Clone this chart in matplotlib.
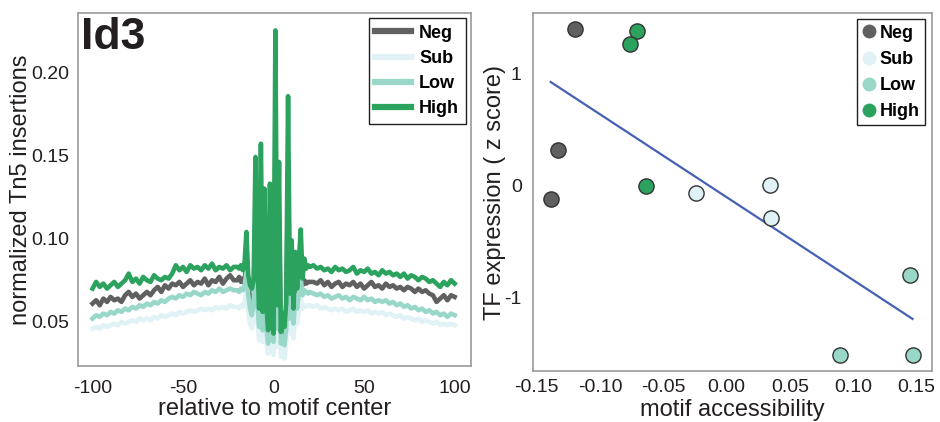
import numpy as np
import matplotlib
matplotlib.use('Agg')
import matplotlib.pyplot as plt
from matplotlib.lines import Line2D

plt.rcParams['font.family'] = ['Liberation Sans', 'DejaVu Sans']
plt.rcParams['axes.unicode_minus'] = False

groups = ['Neg', 'Sub', 'Low', 'High']
colors = ['#606060', '#e0f2f6', '#99d8c9', '#2ca25f']

# footprint positions: 2 bp steps on the flanks, 1 bp around the motif
pos = np.concatenate([np.arange(-100, -20, 2), np.arange(-20, 21), np.arange(22, 101, 2)])

neg = [0.061, 0.063, 0.060, 0.064, 0.062, 0.065, 0.063, 0.064, 0.062, 0.066,
       0.068, 0.065, 0.067, 0.064, 0.066, 0.068, 0.066, 0.069, 0.071, 0.068,
       0.072, 0.070, 0.073, 0.072, 0.074, 0.071, 0.073, 0.075, 0.072, 0.074,
       0.073, 0.076, 0.072, 0.075, 0.074, 0.077, 0.073, 0.076, 0.078, 0.075,
       # -20 .. 20
       0.075, 0.077, 0.074, 0.076, 0.073, 0.088, 0.070, 0.062, 0.058, 0.067,
       0.115, 0.072, 0.054, 0.120, 0.052, 0.100, 0.053, 0.042, 0.103, 0.046,
       0.041, 0.165, 0.052, 0.112, 0.041, 0.049, 0.043, 0.055, 0.140, 0.060,
       0.082, 0.054, 0.076, 0.064, 0.075, 0.086, 0.072, 0.075, 0.073, 0.074,
       0.074,
       0.074, 0.073, 0.075, 0.072, 0.074, 0.071, 0.073, 0.074, 0.071, 0.073,
       0.072, 0.074, 0.071, 0.073, 0.070, 0.072, 0.074, 0.071, 0.072, 0.070,
       0.073, 0.071, 0.072, 0.070, 0.071, 0.069, 0.071, 0.070, 0.068, 0.070,
       0.068, 0.069, 0.067, 0.066, 0.062, 0.064, 0.066, 0.063, 0.066, 0.065]

sub = [0.046, 0.047, 0.046, 0.048, 0.047, 0.048, 0.049, 0.048, 0.050, 0.049,
       0.050, 0.051, 0.050, 0.052, 0.051, 0.052, 0.051, 0.053, 0.052, 0.054,
       0.053, 0.054, 0.055, 0.054, 0.056, 0.055, 0.056, 0.057, 0.056, 0.057,
       0.058, 0.057, 0.058, 0.057, 0.059, 0.058, 0.059, 0.058, 0.060, 0.059,
       0.059, 0.058, 0.060, 0.059, 0.062, 0.068, 0.056, 0.049, 0.046, 0.053,
       0.075, 0.052, 0.039, 0.080, 0.038, 0.068, 0.038, 0.031, 0.070, 0.033,
       0.030, 0.100, 0.035, 0.075, 0.029, 0.033, 0.028, 0.037, 0.090, 0.043,
       0.058, 0.040, 0.055, 0.049, 0.057, 0.064, 0.058, 0.060, 0.059, 0.060,
       0.060,
       0.059, 0.060, 0.058, 0.059, 0.058, 0.057, 0.058, 0.057, 0.058, 0.056,
       0.057, 0.058, 0.056, 0.057, 0.056, 0.057, 0.055, 0.056, 0.055, 0.056,
       0.054, 0.055, 0.054, 0.053, 0.054, 0.052, 0.053, 0.052, 0.051, 0.052,
       0.050, 0.051, 0.050, 0.049, 0.050, 0.048, 0.049, 0.048, 0.049, 0.048]

low = [0.052, 0.054, 0.053, 0.055, 0.054, 0.056, 0.055, 0.057, 0.056, 0.058,
       0.057, 0.059, 0.058, 0.060, 0.059, 0.061, 0.060, 0.062, 0.061, 0.063,
       0.062, 0.064, 0.065, 0.064, 0.066, 0.065, 0.067, 0.066, 0.068, 0.067,
       0.066, 0.068, 0.067, 0.069, 0.068, 0.070, 0.068, 0.069, 0.070, 0.069,
       0.069, 0.068, 0.070, 0.069, 0.072, 0.080, 0.066, 0.058, 0.054, 0.062,
       0.090, 0.062, 0.047, 0.095, 0.045, 0.080, 0.046, 0.037, 0.082, 0.040,
       0.038, 0.120, 0.046, 0.088, 0.037, 0.041, 0.036, 0.046, 0.105, 0.052,
       0.070, 0.049, 0.066, 0.058, 0.068, 0.076, 0.066, 0.069, 0.068, 0.067,
       0.068,
       0.067, 0.066, 0.067, 0.065, 0.066, 0.064, 0.065, 0.066, 0.064, 0.065,
       0.063, 0.065, 0.064, 0.063, 0.065, 0.063, 0.064, 0.062, 0.063, 0.062,
       0.063, 0.061, 0.062, 0.060, 0.061, 0.059, 0.060, 0.058, 0.059, 0.057,
       0.058, 0.056, 0.057, 0.055, 0.056, 0.054, 0.055, 0.053, 0.055, 0.054]

high = [0.070, 0.074, 0.071, 0.073, 0.070, 0.072, 0.074, 0.071, 0.073, 0.075,
        0.079, 0.074, 0.076, 0.073, 0.077, 0.075, 0.074, 0.078, 0.076, 0.075,
        0.077, 0.076, 0.079, 0.084, 0.081, 0.083, 0.080, 0.084, 0.082, 0.083,
        0.081, 0.084, 0.082, 0.085, 0.081, 0.083, 0.082, 0.084, 0.081, 0.083,
        0.083, 0.082, 0.084, 0.081, 0.086, 0.104, 0.078, 0.072, 0.070, 0.075,
        0.149, 0.090, 0.058, 0.157, 0.056, 0.130, 0.060, 0.045, 0.133, 0.050,
        0.043, 0.225, 0.060, 0.146, 0.044, 0.055, 0.047, 0.062, 0.1855, 0.067,
        0.099, 0.058, 0.092, 0.070, 0.087, 0.1055, 0.076, 0.088, 0.082, 0.084,
        0.083,
        0.084, 0.082, 0.083, 0.081, 0.082, 0.080, 0.083, 0.081, 0.082, 0.080,
        0.081, 0.083, 0.079, 0.081, 0.080, 0.082, 0.079, 0.080, 0.078, 0.081,
        0.079, 0.080, 0.078, 0.079, 0.077, 0.079, 0.076, 0.078, 0.077, 0.075,
        0.077, 0.076, 0.074, 0.075, 0.073, 0.071, 0.074, 0.072, 0.075, 0.073]

# motif accessibility vs TF expression, per sample
acc_neg = [-0.1197, -0.1336, -0.1390]
expr_neg = [1.40, 0.32, -0.12]
acc_sub = [-0.0244, 0.0346, 0.0350]
expr_sub = [-0.07, 0.003, -0.29]
acc_low = [0.1450, 0.0895, 0.1470]
expr_low = [-0.80, -1.52, -1.52]
acc_high = [-0.0706, -0.0764, -0.0640]
expr_high = [1.38, 1.26, -0.006]

fig = plt.figure(figsize=(9.4, 4.22), dpi=100)
ax1 = fig.add_axes([0.083, 0.133, 0.418, 0.836])
ax2 = fig.add_axes([0.567, 0.121, 0.424, 0.848])

for ax in (ax1, ax2):
    for sp in ax.spines.values():
        sp.set_color('#9a9a9a')
        sp.set_linewidth(1.2)
    ax.tick_params(length=0, labelsize=14, colors='#231f20')

# ---- footprint profiles
for y, c, g in zip([neg, sub, low, high], colors, groups):
    ax1.plot(pos, y, color=c, lw=3.3, label=g)
ax1.set_xlim(-108, 109)
ax1.set_ylim(0.0236, 0.2354)
ax1.set_xticks([-100, -50, 0, 50, 100])
ax1.set_yticks([0.05, 0.10, 0.15, 0.20])
ax1.set_yticklabels(['0.05', '0.10', '0.15', '0.20'])
ax1.tick_params(axis='y', pad=6)
ax1.tick_params(axis='x', pad=10)
ax1.set_xlabel('relative to motif center', fontsize=17, labelpad=1, color='#231f20')
ax1.set_ylabel('normalized Tn5 insertions', fontsize=17, labelpad=0, color='#231f20')
ax1.text(0.008, 0.99, 'Id3', transform=ax1.transAxes, ha='left', va='top',
         fontsize=32, fontweight='bold', color='#231f20')

leg1 = ax1.legend(loc='upper right', fancybox=False, edgecolor='#231f20',
                  framealpha=1, borderaxespad=0.3, handlelength=2.0,
                  handletextpad=0.45, labelspacing=0.45, borderpad=0.35,
                  prop={'weight': 'bold', 'size': 13})
leg1.get_frame().set_linewidth(1.0)
for l in leg1.get_lines():
    l.set_linewidth(4.5)

# ---- accessibility vs expression
scatter_sets = [(acc_neg, expr_neg), (acc_sub, expr_sub), (acc_low, expr_low), (acc_high, expr_high)]
for (xs, ys), c in zip(scatter_sets, colors):
    ax2.scatter(xs, ys, s=120, color=c, edgecolors='#333333', linewidths=1.0, zorder=3)

all_x = np.concatenate([np.array(s[0]) for s in scatter_sets])
all_y = np.concatenate([np.array(s[1]) for s in scatter_sets])
slope, icpt = np.polyfit(all_x, all_y, 1)
fx = np.array([all_x.min(), all_x.max()])
ax2.plot(fx, slope * fx + icpt, color='#4561b3', lw=1.6, zorder=2)

ax2.set_xlim(-0.153, 0.162)
ax2.set_ylim(-1.66, 1.54)
ax2.set_xticks([-0.15, -0.10, -0.05, 0.00, 0.05, 0.10, 0.15])
ax2.set_xticklabels(['-0.15', '-0.10', '-0.05', '0.00', '0.05', '0.10', '0.15'])
ax2.set_yticks([-1, 0, 1])
ax2.set_yticklabels(['-1', '0', '1'])
ax2.tick_params(axis='y', pad=8)
ax2.tick_params(axis='x', pad=6)
ax2.set_xlabel('motif accessibility', fontsize=17, labelpad=2, color='#231f20')
ax2.set_ylabel('TF expression ( z score)', fontsize=17, labelpad=-1, color='#231f20')

handles = [Line2D([], [], ls='none', marker='o', markersize=10, color=c, markeredgewidth=0)
           for c in colors]
leg2 = ax2.legend(handles, groups, loc='upper right', fancybox=False, edgecolor='#231f20',
                  framealpha=1, borderaxespad=0.35, handlelength=0.7,
                  handletextpad=0.25, labelspacing=0.5, borderpad=0.3,
                  prop={'weight': 'bold', 'size': 13})
leg2.get_frame().set_linewidth(1.0)

fig.savefig('out.png', dpi=100)
